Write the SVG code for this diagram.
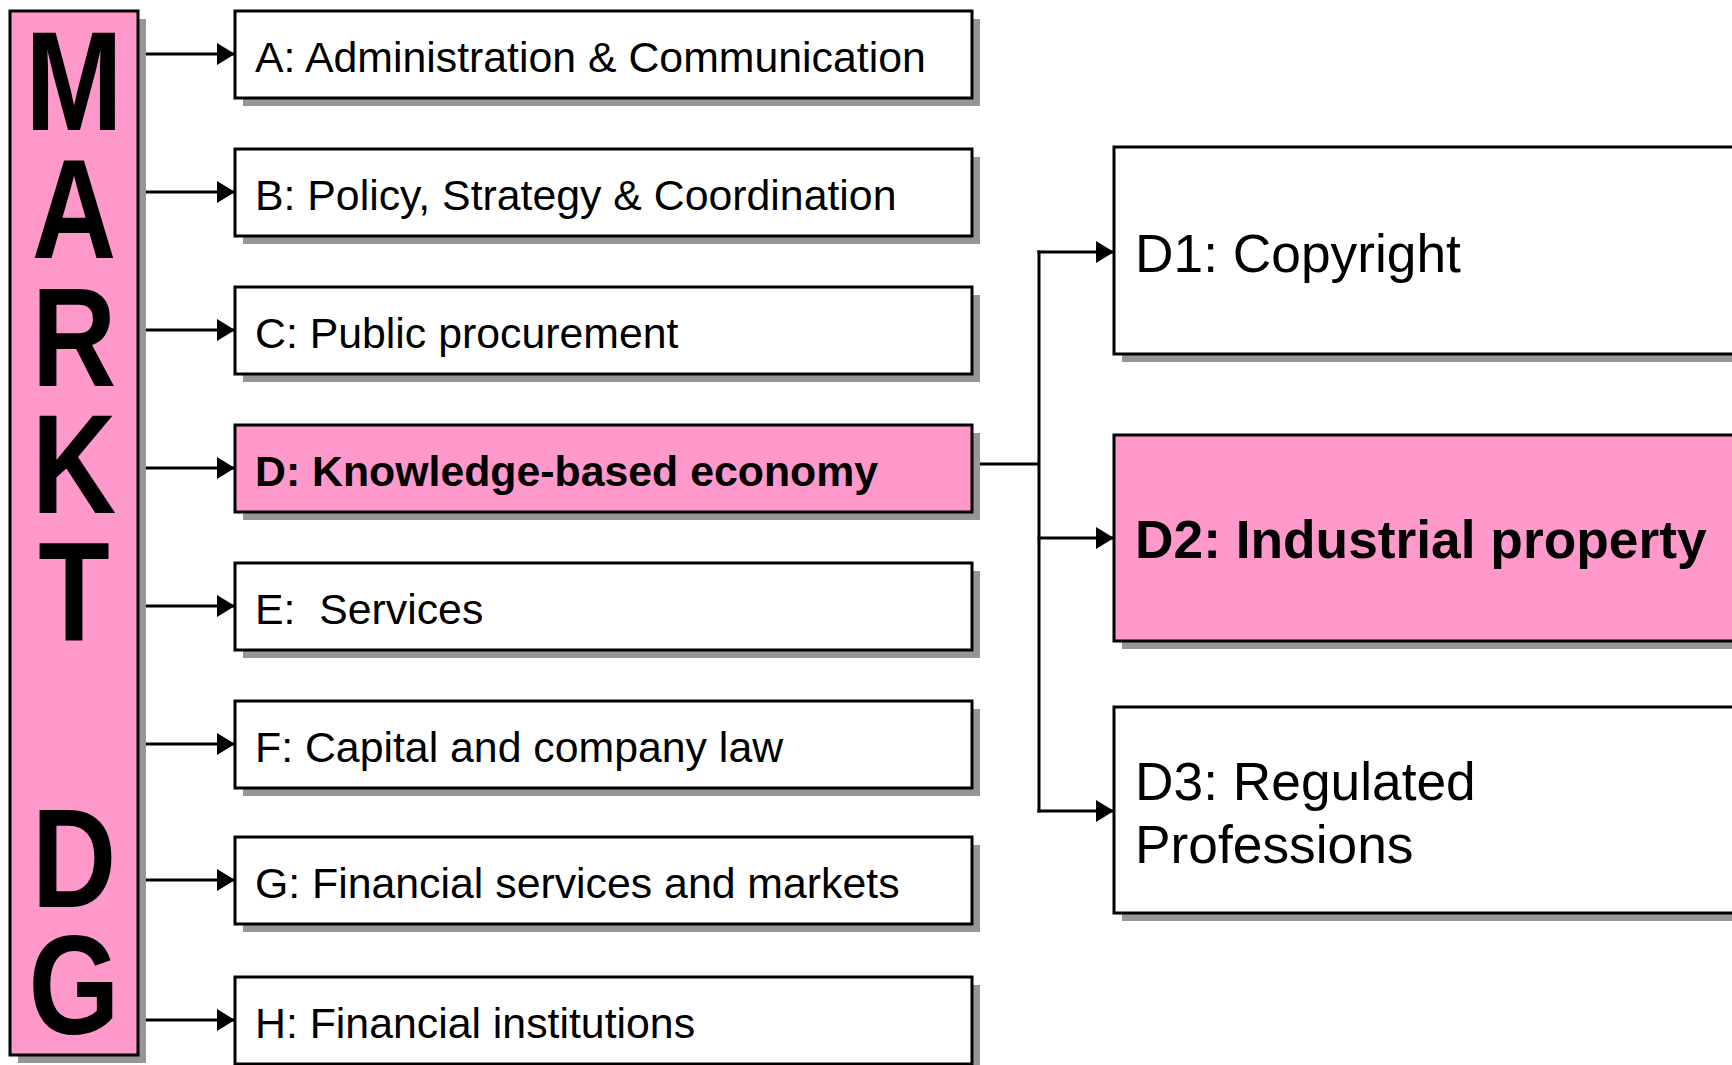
<svg xmlns="http://www.w3.org/2000/svg" width="1732" height="1065" viewBox="0 0 1732 1065">
<style>
.bg{fill:#FFFFFF}
.sh{fill:#969696}
.box{fill:#FFFFFF;stroke:#000000;stroke-width:3}
.pink{fill:#FF99CC;stroke:#000000;stroke-width:3}
.lbl{font-family:"Liberation Sans",Arial,sans-serif;font-size:42.8px;fill:#000000}
.b{font-weight:bold}
.big{font-family:"Liberation Sans",Arial,sans-serif;font-size:53.3px;fill:#000000}
.vt{font-family:"Liberation Sans",Arial,sans-serif;font-size:141px;font-weight:bold;fill:#000000;text-anchor:middle}
.ln{stroke:#000000;stroke-width:3;fill:none}
.ar{stroke:#000000;stroke-width:3;fill:none;marker-end:url(#ah)}
</style>
<defs>
<marker id="ah" viewBox="0 0 18 22" refX="18" refY="11" markerWidth="18" markerHeight="22" markerUnits="userSpaceOnUse" orient="auto">
<path d="M0,0 L18,11 L0,22 z" fill="#000000"/>
</marker>
</defs>
<rect class="bg" x="0" y="0" width="1732" height="1065"/>
<g id="connectors">
<line class="ar" x1="138" y1="54" x2="235" y2="54"/>
<line class="ar" x1="138" y1="192" x2="235" y2="192"/>
<line class="ar" x1="138" y1="330" x2="235" y2="330"/>
<line class="ar" x1="138" y1="468" x2="235" y2="468"/>
<line class="ar" x1="138" y1="606" x2="235" y2="606"/>
<line class="ar" x1="138" y1="744" x2="235" y2="744"/>
<line class="ar" x1="138" y1="880" x2="235" y2="880"/>
<line class="ar" x1="138" y1="1020" x2="235" y2="1020"/>
<line class="ln" x1="972" y1="464" x2="1039" y2="464"/>
<line class="ln" x1="1039" y1="250.5" x2="1039" y2="812.5"/>
<line class="ar" x1="1037.5" y1="252" x2="1114" y2="252"/>
<line class="ar" x1="1037.5" y1="538" x2="1114" y2="538"/>
<line class="ar" x1="1037.5" y1="811" x2="1114" y2="811"/>
</g>
<g id="markt-dg">
<rect class="sh" x="18" y="19" width="128" height="1044"/>
<rect class="pink" x="10" y="11" width="128" height="1044"/>
<g transform="translate(74,0) scale(0.83,1)">
<text class="vt"><tspan x="0" y="130">M</tspan><tspan x="0" y="258">A</tspan><tspan x="0" y="386">R</tspan><tspan x="0" y="513">K</tspan><tspan x="0" y="640">T</tspan><tspan x="0" y="907">D</tspan><tspan x="0" y="1034">G</tspan></text>
</g>
</g>
<g id="node-a">
<rect class="sh" x="243" y="19" width="737" height="87"/>
<rect class="box" x="235" y="11" width="737" height="87"/>
<text class="lbl" x="255" y="72">A: Administration &amp; Communication</text>
</g>
<g id="node-b">
<rect class="sh" x="243" y="157" width="737" height="87"/>
<rect class="box" x="235" y="149" width="737" height="87"/>
<text class="lbl" x="255" y="210">B: Policy, Strategy &amp; Coordination</text>
</g>
<g id="node-c">
<rect class="sh" x="243" y="295" width="737" height="87"/>
<rect class="box" x="235" y="287" width="737" height="87"/>
<text class="lbl" x="255" y="348">C: Public procurement</text>
</g>
<g id="node-d">
<rect class="sh" x="243" y="433" width="737" height="87"/>
<rect class="pink" x="235" y="425" width="737" height="87"/>
<text class="lbl b" x="255" y="486">D: Knowledge-based economy</text>
</g>
<g id="node-e">
<rect class="sh" x="243" y="571" width="737" height="87"/>
<rect class="box" x="235" y="563" width="737" height="87"/>
<text class="lbl" x="255" y="624" xml:space="preserve">E:  Services</text>
</g>
<g id="node-f">
<rect class="sh" x="243" y="709" width="737" height="87"/>
<rect class="box" x="235" y="701" width="737" height="87"/>
<text class="lbl" x="255" y="762">F: Capital and company law</text>
</g>
<g id="node-g">
<rect class="sh" x="243" y="845" width="737" height="87"/>
<rect class="box" x="235" y="837" width="737" height="87"/>
<text class="lbl" x="255" y="898">G: Financial services and markets</text>
</g>
<g id="node-h">
<rect class="sh" x="243" y="985" width="737" height="87"/>
<rect class="box" x="235" y="977" width="737" height="87"/>
<text class="lbl" x="255" y="1038">H: Financial institutions</text>
</g>
<g id="node-d1">
<rect class="sh" x="1122" y="155" width="700" height="207"/>
<rect class="box" x="1114" y="147" width="700" height="207"/>
<text class="big" x="1135" y="272">D1: Copyright</text>
</g>
<g id="node-d2">
<rect class="sh" x="1122" y="443" width="700" height="206"/>
<rect class="pink" x="1114" y="435" width="700" height="206"/>
<text class="big b" x="1135" y="558">D2: Industrial property</text>
</g>
<g id="node-d3">
<rect class="sh" x="1122" y="715" width="700" height="206"/>
<rect class="box" x="1114" y="707" width="700" height="206"/>
<text class="big" x="1135" y="800">D3: Regulated</text>
<text class="big" x="1135" y="863">Professions</text>
</g>
</svg>
